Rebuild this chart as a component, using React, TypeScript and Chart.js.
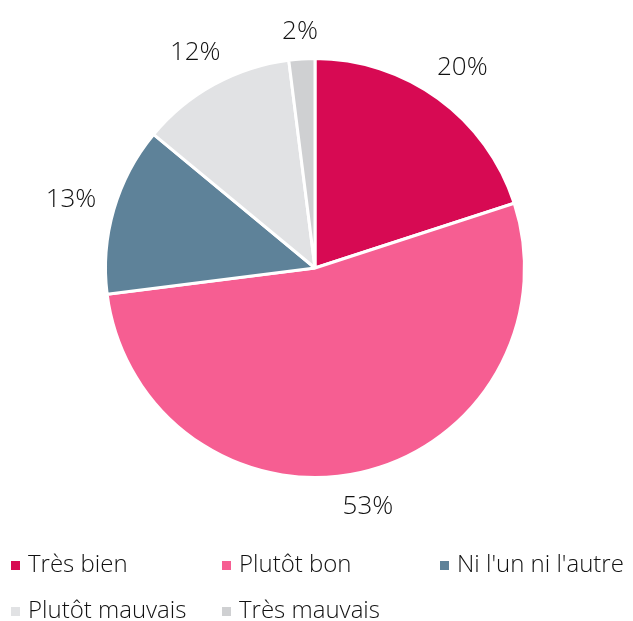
import React, { useEffect, useRef } from "react";
import { Chart, registerables } from "chart.js";

Chart.register(...registerables);

const categories = ["Très bien", "Plutôt bon", "Ni l'un ni l'autre", "Plutôt mauvais", "Très mauvais"];
const values = [20, 53, 13, 12, 2];
const valueLabels = ["20%", "53%", "13%", "12%", "2%"];
const colors = ["#D70A53", "#F65E92", "#5E8299", "#E1E2E4", "#CFD0D2"];
const legendCols = [11, 222, 440];
const legendRows = [572, 618];

const FONT = "'Open Sans', 'Noto Sans', sans-serif";

function labelDistance(dx: number, dy: number, hw: number, hh: number, R: number) {
  let lo = 0;
  let hi = 600;
  for (let k = 0; k < 60; k++) {
    const D = (lo + hi) / 2;
    const cx = dx * D;
    const cy = dy * D;
    const nx = Math.max(Math.abs(cx) - hw, 0);
    const ny = Math.max(Math.abs(cy) - hh, 0);
    const dist = Math.sqrt(nx * nx + ny * ny);
    if (dist < R) lo = D;
    else hi = D;
  }
  return (lo + hi) / 2;
}

const labelPlugin = {
  id: "outsideLabels",
  afterDraw(chart: any) {
    const ctx = chart.ctx;
    const meta = chart.getDatasetMeta(0);
    ctx.save();
    ctx.fillStyle = "#111111";
    ctx.font = `300 26px ${FONT}`;
    ctx.textAlign = "center";
    ctx.textBaseline = "middle";
    meta.data.forEach((arc: any, i: number) => {
      const a = (arc.startAngle + arc.endAngle) / 2;
      const w = ctx.measureText(valueLabels[i]).width;
      const dx = Math.cos(a);
      const dy = Math.sin(a);
      const D = labelDistance(dx, dy, w / 2, 12, arc.outerRadius + 17);
      ctx.fillText(valueLabels[i], arc.x + dx * D, arc.y + dy * D + 2);
    });
    // legend
    ctx.font = `300 24px ${FONT}`;
    ctx.textAlign = "left";
    ctx.textBaseline = "alphabetic";
    categories.forEach((c, i) => {
      const row = i < 3 ? 0 : 1;
      const col = i < 3 ? i : i - 3;
      const x = legendCols[col];
      const y = legendRows[row];
      ctx.fillStyle = colors[i];
      ctx.fillRect(x, y - 11, 9, 9);
      ctx.fillStyle = "#111111";
      ctx.fillText(c, x + 17, y);
    });
    ctx.restore();
  },
};

export default function App() {
  const ref = useRef<HTMLCanvasElement>(null);
  useEffect(() => {
    document.body.style.margin = "0";
    const chart = new Chart(ref.current!, {
      type: "pie",
      data: {
        labels: categories,
        datasets: [
          {
            data: values,
            backgroundColor: colors,
            borderColor: "#ffffff",
            borderWidth: 3,
          },
        ],
      },
      options: {
        animation: false,
        responsive: false,
        layout: { padding: { left: 104, right: 107, top: 57, bottom: 142 } },
        plugins: { legend: { display: false }, tooltip: { enabled: false } },
      },
      plugins: [labelPlugin],
    });
    return () => chart.destroy();
  }, []);
  return (
    <div style={{ width: 633, height: 621, background: "#fff" }}>
      <canvas ref={ref} width={633} height={621} />
    </div>
  );
}
